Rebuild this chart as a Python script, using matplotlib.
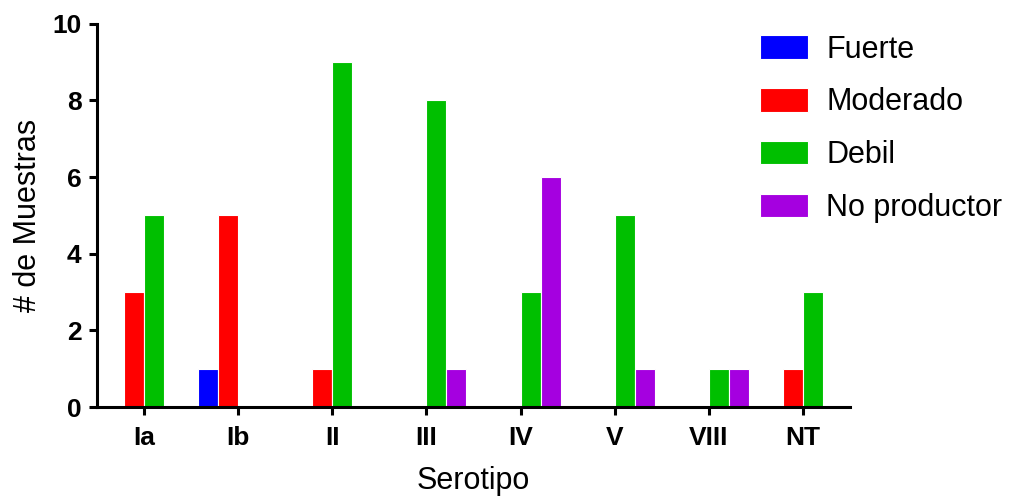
import numpy as np
import matplotlib.pyplot as plt

plt.rcParams['font.family'] = ['Liberation Sans', 'DejaVu Sans']

serotipos = ['Ia', 'Ib', 'II', 'III', 'IV', 'V', 'VIII', 'NT']
fuerte = [0, 1, 0, 0, 0, 0, 0, 0]
moderado = [3, 5, 1, 0, 0, 0, 0, 1]
debil = [5, 0, 9, 8, 3, 5, 1, 3]
no_productor = [0, 0, 0, 1, 6, 1, 1, 0]

series = [('Fuerte', fuerte, '#0000FF'),
          ('Moderado', moderado, '#FF0000'),
          ('Debil', debil, '#00BF00'),
          ('No productor', no_productor, '#A500E0')]

fig = plt.figure(figsize=(10.11, 4.97), dpi=100)
ax = fig.add_axes([0.0959, 0.181, 0.745, 0.771])

x = np.arange(len(serotipos))
w = 0.2125
offsets = [-1.5, -0.5, 0.5, 1.5]
handles = []
for (name, vals, col), off in zip(series, offsets):
    b = ax.bar(x + off * w, vals, w, color=col, edgecolor='white', linewidth=0.8, label=name)
    handles.append(b)

ax.set_xlim(-0.5, 7.5)
ax.set_ylim(0, 10)
ax.set_yticks([0, 2, 4, 6, 8, 10])
ax.set_xticks(x)
ax.set_xticklabels(serotipos)
for lab in ax.get_xticklabels() + ax.get_yticklabels():
    lab.set_fontweight('bold')
    lab.set_fontsize(19)
ax.spines['top'].set_visible(False)
ax.spines['right'].set_visible(False)
ax.spines['left'].set_linewidth(2.2)
ax.spines['bottom'].set_linewidth(2.2)
ax.tick_params(axis='both', width=2.2, length=6)
ax.tick_params(axis='y', pad=5)
ax.tick_params(axis='x', pad=8)

ax.set_ylabel('# de Muestras', fontsize=22, labelpad=7)
ax.set_xlabel('Serotipo', fontsize=22, labelpad=11)

fig.legend(handles=handles, loc='upper left', bbox_to_anchor=(0.7517, 0.9305),
           frameon=False, fontsize=22, borderpad=0, borderaxespad=0,
           handlelength=1.57, handleheight=0.8,
           labelspacing=0.75, handletextpad=0.6)

fig.savefig('out.png', dpi=100)
